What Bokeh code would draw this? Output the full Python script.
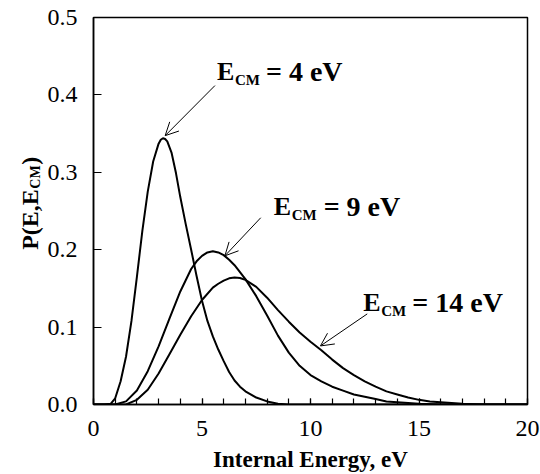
import math
from bokeh.plotting import figure
from bokeh.layouts import row
from bokeh.core.properties import value
from bokeh.models import Label, Arrow, OpenHead, FixedTicker, Range1d, NumeralTickFormatter
from bokeh.embed import file_html
from bokeh.resources import INLINE

# Internal-energy distributions P(E, E_CM) for three collision energies
energy_4 = [0, 0.5, 0.8, 1.0, 1.25, 1.5, 1.75, 2.0, 2.25, 2.5, 2.75, 3.0, 3.1, 3.2, 3.3, 3.4, 3.6, 3.8,
            4.0, 4.25, 4.5, 4.75, 5.0, 5.25, 5.5, 5.75, 6.0, 6.25, 6.5, 6.75, 7.0, 7.5, 8.0, 8.5, 9.0, 20]
prob_4 = [0, 0, 0.001, 0.008, 0.030, 0.062, 0.108, 0.165, 0.224, 0.275, 0.314, 0.337, 0.342, 0.344, 0.343, 0.340, 0.325, 0.299,
          0.268, 0.233, 0.200, 0.166, 0.134, 0.108, 0.088, 0.071, 0.056, 0.042, 0.031, 0.023, 0.017, 0.009, 0.004, 0.001, 0, 0]

energy_9 = [0, 1.0, 1.5, 2.0, 2.5, 3.0, 3.5, 4.0, 4.5, 4.75, 5.0, 5.25, 5.5, 5.75, 6.0, 6.25, 6.5, 7.0, 7.5, 8.0, 8.5,
            9.0, 9.5, 10.0, 10.5, 11.0, 11.5, 12.0, 12.5, 13.0, 13.5, 14.0, 15.0, 16.0, 20]
prob_9 = [0, 0, 0.004, 0.018, 0.043, 0.075, 0.111, 0.146, 0.175, 0.185, 0.192, 0.1965, 0.198, 0.1965, 0.193, 0.187, 0.180, 0.162, 0.140, 0.115, 0.089,
          0.067, 0.050, 0.038, 0.030, 0.023, 0.018, 0.013, 0.010, 0.007, 0.004, 0.003, 0.001, 0, 0]

energy_14 = [0, 1.5, 2.0, 2.5, 3.0, 3.5, 4.0, 4.5, 5.0, 5.5, 5.75, 6.0, 6.25, 6.5, 6.75, 7.0, 7.5, 8.0, 8.5, 9.0, 9.5, 10.0,
             10.5, 11.0, 11.5, 12.0, 12.5, 13.0, 13.5, 14.0, 14.5, 15.0, 15.5, 16.0, 17.0, 18.0, 20]
prob_14 = [0, 0, 0.006, 0.019, 0.040, 0.065, 0.090, 0.114, 0.135, 0.151, 0.156, 0.160, 0.163, 0.164, 0.1635, 0.161, 0.152, 0.138, 0.122, 0.107, 0.093, 0.081,
           0.070, 0.058, 0.047, 0.038, 0.030, 0.023, 0.017, 0.013, 0.009, 0.006, 0.004, 0.003, 0.001, 0, 0]

x_ticks = [0, 5, 10, 15, 20]
y_ticks = [0.0, 0.1, 0.2, 0.3, 0.4, 0.5]

SERIF = "Liberation Serif"
LEFT_STRIP = 44      # width of the strip that carries the vertical axis title
H = 474
FRAME_TOP, FRAME_BOTTOM = 17, 403.5   # page rows of the plotting frame

p = figure(width=540 - LEFT_STRIP, height=H, output_backend="svg", toolbar_location=None,
           x_range=Range1d(0, 20), y_range=Range1d(0, 0.5),
           min_border_left=91 - LEFT_STRIP, min_border_right=13, min_border_top=17, min_border_bottom=70)
p.background_fill_color = "white"
p.border_fill_color = "white"
p.outline_line_color = "black"
p.outline_line_width = 1.5
p.xgrid.visible = False
p.ygrid.visible = False

# axes: inward ticks, serif tick labels
p.xaxis.ticker = FixedTicker(ticks=x_ticks, minor_ticks=list(range(0, 21)))
p.yaxis.ticker = FixedTicker(ticks=y_ticks, minor_ticks=[])
p.yaxis.formatter = NumeralTickFormatter(format="0.0")
for ax in (p.xaxis[0], p.yaxis[0]):
    ax.axis_line_color = "black"
    ax.axis_line_width = 1.5
    ax.major_tick_line_color = "black"
    ax.major_tick_line_width = 1.2
    ax.minor_tick_line_color = "black"
    ax.minor_tick_line_width = 1.2
    ax.major_tick_out = 0
    ax.minor_tick_out = 0
    ax.major_label_text_font = SERIF
    ax.major_label_text_font_size = "24px"
    ax.major_label_text_color = "black"
p.xaxis.major_tick_in = 6
p.xaxis.minor_tick_in = 6
p.xaxis.major_label_standoff = 16
p.yaxis.major_tick_in = 8
p.yaxis.minor_tick_in = 0
p.yaxis.major_label_standoff = 16

p.xaxis.axis_label = "Internal Energy, eV"
p.xaxis.axis_label_text_font = SERIF
p.xaxis.axis_label_text_font_style = "bold"
p.xaxis.axis_label_text_font_size = "23px"
p.xaxis.axis_label_text_color = "black"
p.xaxis.axis_label_standoff = 8

# curves
for ex, pr in ((energy_4, prob_4), (energy_9, prob_9), (energy_14, prob_14)):
    p.line(ex, pr, line_color="black", line_width=2)

# page-pixel helpers for placing annotations inside the frame
FX0, FX1 = 91.0, 527.0
def dx(px):
    return (px - FX0) / (FX1 - FX0) * 20.0
def dy(py):
    return (FRAME_BOTTOM - py) / (FRAME_BOTTOM - FRAME_TOP) * 0.5

def ecm_label(px, py, rest, rest_offset):
    common = dict(text_font=SERIF, text_font_style="bold", text_color="black",
                  text_baseline="alphabetic", text_align="left")
    p.add_layout(Label(x=dx(px), y=dy(py), text="E", text_font_size="26px", **common))
    p.add_layout(Label(x=dx(px), y=dy(py), x_offset=18, y_offset=-8, text="CM",
                       text_font_size="15px", **common))
    p.add_layout(Label(x=dx(px), y=dy(py), x_offset=rest_offset, text=rest,
                       text_font_size="28px", **common))

ecm_label(215, 71, "= 4 eV", 49)
ecm_label(272, 206, "= 9 eV", 50)
ecm_label(362, 302, "= 14 eV", 49)

def pointer(x0, y0, x1, y1):
    p.add_layout(Arrow(x_start=dx(x0), y_start=dy(y0), x_end=dx(x1), y_end=dy(y1),
                       line_color="black", line_width=1,
                       end=OpenHead(size=13, line_color="black", line_width=1)))

pointer(213, 85, 163, 135)
pointer(259, 217, 223, 255)
pointer(366, 313, 319, 345)

# narrow strip with the vertical title P(E, E_CM); the row aligns its frame with the
# main frame, so its y range runs over the same page rows (counted upward from the bottom)
side = figure(width=LEFT_STRIP, height=H, output_backend="svg", toolbar_location=None,
              x_range=Range1d(0, LEFT_STRIP), y_range=Range1d(H - FRAME_BOTTOM, H - FRAME_TOP),
              x_axis_location=None, y_axis_location=None, title=None,
              min_border=0, min_border_left=0, min_border_right=0, min_border_top=0, min_border_bottom=0)
side.outline_line_color = None
side.xgrid.visible = False
side.ygrid.visible = False
side.background_fill_color = "white"
side.border_fill_color = "white"

ylab = dict(text_font=value(SERIF), text_font_style="bold", text_color="black",
            text_baseline="alphabetic", text_align="left", angle=math.pi / 2)
side.text(x=[29], y=[H - 249], text=["P(E,E"], text_font_size="24px", **ylab)
side.text(x=[35], y=[H - 249 + 61], text=["CM"], text_font_size="14px", **ylab)
side.text(x=[29], y=[H - 249 + 61 + 24], text=[")"], text_font_size="24px", **ylab)

layout = row(side, p, spacing=0)
open("out.html", "w").write(file_html(layout, INLINE))
